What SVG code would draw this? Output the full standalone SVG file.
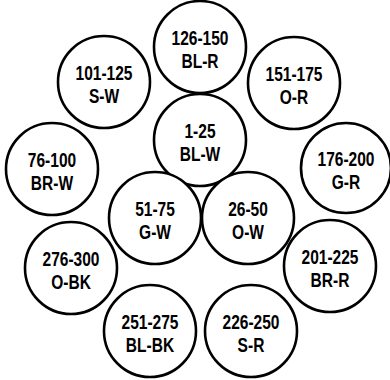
<svg xmlns="http://www.w3.org/2000/svg" width="390" height="380" viewBox="0 0 390 380">
<style>
circle{fill:#fff;stroke:#000;stroke-width:2.6}
text{font-family:"Liberation Sans",Arial,sans-serif;font-weight:bold;font-size:21px;text-anchor:middle;fill:#000}
</style>
<rect width="390" height="380" fill="#fff"/>
<g id="n126" transform="translate(200,47)"><circle r="46"/><text transform="scale(0.74,1)"><tspan x="0" y="-2">126-150</tspan><tspan x="0" y="21">BL-R</tspan></text></g>
<g id="n101" transform="translate(104,82)"><circle r="46"/><text transform="scale(0.74,1)"><tspan x="0" y="-2">101-125</tspan><tspan x="0" y="21">S-W</tspan></text></g>
<g id="n151" transform="translate(294,83)"><circle r="46"/><text transform="scale(0.74,1)"><tspan x="0" y="-2">151-175</tspan><tspan x="0" y="21">O-R</tspan></text></g>
<g id="n1" transform="translate(200,140)"><circle r="46"/><text transform="scale(0.74,1)"><tspan x="0" y="-2">1-25</tspan><tspan x="0" y="21">BL-W</tspan></text></g>
<g id="n76" transform="translate(52,169)"><circle r="46"/><text transform="scale(0.74,1)"><tspan x="0" y="-2">76-100</tspan><tspan x="0" y="21">BR-W</tspan></text></g>
<g id="n176" transform="translate(346,168)"><circle r="45"/><text transform="scale(0.74,1)"><tspan x="0" y="-2">176-200</tspan><tspan x="0" y="21">G-R</tspan></text></g>
<g id="n51" transform="translate(155,218)"><circle r="46"/><text transform="scale(0.74,1)"><tspan x="0" y="-2">51-75</tspan><tspan x="0" y="21">G-W</tspan></text></g>
<g id="n26" transform="translate(248,218)"><circle r="46"/><text transform="scale(0.74,1)"><tspan x="0" y="-2">26-50</tspan><tspan x="0" y="21">O-W</tspan></text></g>
<g id="n276" transform="translate(71,268)"><circle r="46"/><text transform="scale(0.74,1)"><tspan x="0" y="-2">276-300</tspan><tspan x="0" y="21">O-BK</tspan></text></g>
<g id="n201" transform="translate(330,266)"><circle r="46"/><text transform="scale(0.74,1)"><tspan x="0" y="-2">201-225</tspan><tspan x="0" y="21">BR-R</tspan></text></g>
<g id="n251" transform="translate(150,331)"><circle r="46"/><text transform="scale(0.74,1)"><tspan x="0" y="-2">251-275</tspan><tspan x="0" y="21">BL-BK</tspan></text></g>
<g id="n226" transform="translate(251,331)"><circle r="46"/><text transform="scale(0.74,1)"><tspan x="0" y="-2">226-250</tspan><tspan x="0" y="21">S-R</tspan></text></g>
<g id="connectors"></g>
</svg>
